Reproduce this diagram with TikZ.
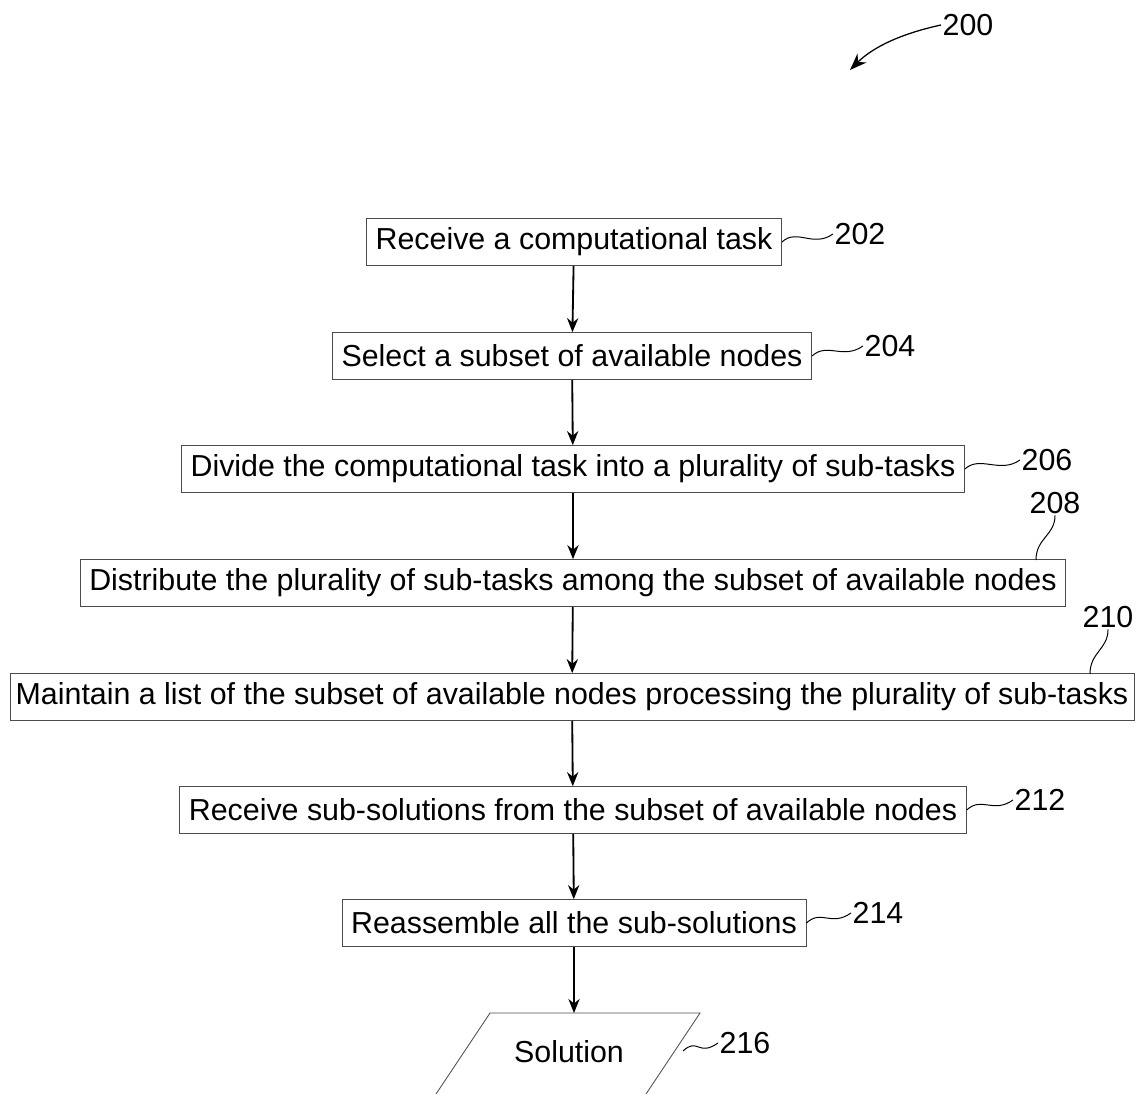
\documentclass[tikz,border=0pt]{standalone}
\usepackage{fontspec}
\setmainfont{Liberation Sans}
\usetikzlibrary{arrows.meta}
\begin{document}
\begin{tikzpicture}[
  x=0.025cm, y=-0.025cm,
  stepbox/.style={draw=black!70, line width=0.6pt, minimum height=1.17cm,
                  inner xsep=6.5pt, font=\fontsize{21.6}{26}\selectfont},
  ref/.style={font=\fontsize{21.6}{26}\selectfont, inner sep=1pt},
  flow/.style={-{Stealth[length=10pt,width=8pt]}, line width=1.3pt},
  wig/.style={line width=0.7pt},
]
\useasboundingbox (0,0) rectangle (1137,1093);

\node[stepbox] (recv)   at (574,242) {Receive a computational task};
\node[stepbox] (subset) at (572,356) {Select a subset of available nodes};
\node[stepbox] (divide) at (573,469) {Divide the computational task into a plurality of sub-tasks};
\node[stepbox] (distr)  at (573,583) {Distribute the plurality of sub-tasks among the subset of available nodes};
\node[stepbox, inner xsep=4pt] (maint) at (572,697) {Maintain a list of the subset of available nodes processing the plurality of sub-tasks};
\node[stepbox] (gather) at (573,810) {Receive sub-solutions from the subset of available nodes};
\node[stepbox] (reasm)  at (574,923) {Reassemble all the sub-solutions};
\node[font=\fontsize{21.6}{26}\selectfont] (sol) at (569,1052) {Solution};
\draw[line width=0.6pt, draw=black!70] (490,1013) -- (700,1013) -- (620,1133) -- (410,1133) -- cycle;
\coordinate (soltop) at (574,1013);

\draw[flow] (recv) -- (subset);
\draw[flow] (subset) -- (divide);
\draw[flow] (divide) -- (distr);
\draw[flow] (distr) -- (maint);
\draw[flow] (maint) -- (gather);
\draw[flow] (gather) -- (reasm);
\draw[flow] (reasm) -- (soltop);

\node[ref] (n200) at (968,25)   {200};
\node[ref] (n202) at (860,234)  {202};
\node[ref] (n204) at (890,346)  {204};
\node[ref] (n206) at (1047,460) {206};
\node[ref] (n208) at (1055,503) {208};
\node[ref] (n210) at (1108,617) {210};
\node[ref] (n212) at (1040,800) {212};
\node[ref] (n214) at (878,913)  {214};
\node[ref] (n216) at (745,1043) {216};

\coordinate (c208) at (1036,560);
\coordinate (c210) at (1090,674);
\coordinate (c216) at (683,1051);
\coordinate (t200) at (850,70);

\draw[-{Stealth[length=12pt,width=9pt]}, line width=0.9pt] (n200.west) .. controls (895,35) and (870,50) .. (t200);
\draw[wig] (recv.east) .. controls +(15,-14) and +(-20,14) .. (n202.west);
\draw[wig] (subset.east) .. controls +(15,-14) and +(-20,14) .. (n204.west);
\draw[wig] (divide.east) .. controls +(15,-14) and +(-20,14) .. (n206.west);
\draw[wig] (c208) .. controls +(0,-22) and +(0,20) .. (n208.south);
\draw[wig] (c210) .. controls +(0,-22) and +(0,20) .. (n210.south);
\draw[wig] (gather.east) .. controls +(15,-14) and +(-20,14) .. (n212.west);
\draw[wig] (reasm.east) .. controls +(15,-14) and +(-20,14) .. (n214.west);
\draw[wig] (c216) .. controls +(15,-14) and +(-20,14) .. (n216.west);
\end{tikzpicture}
\end{document}
